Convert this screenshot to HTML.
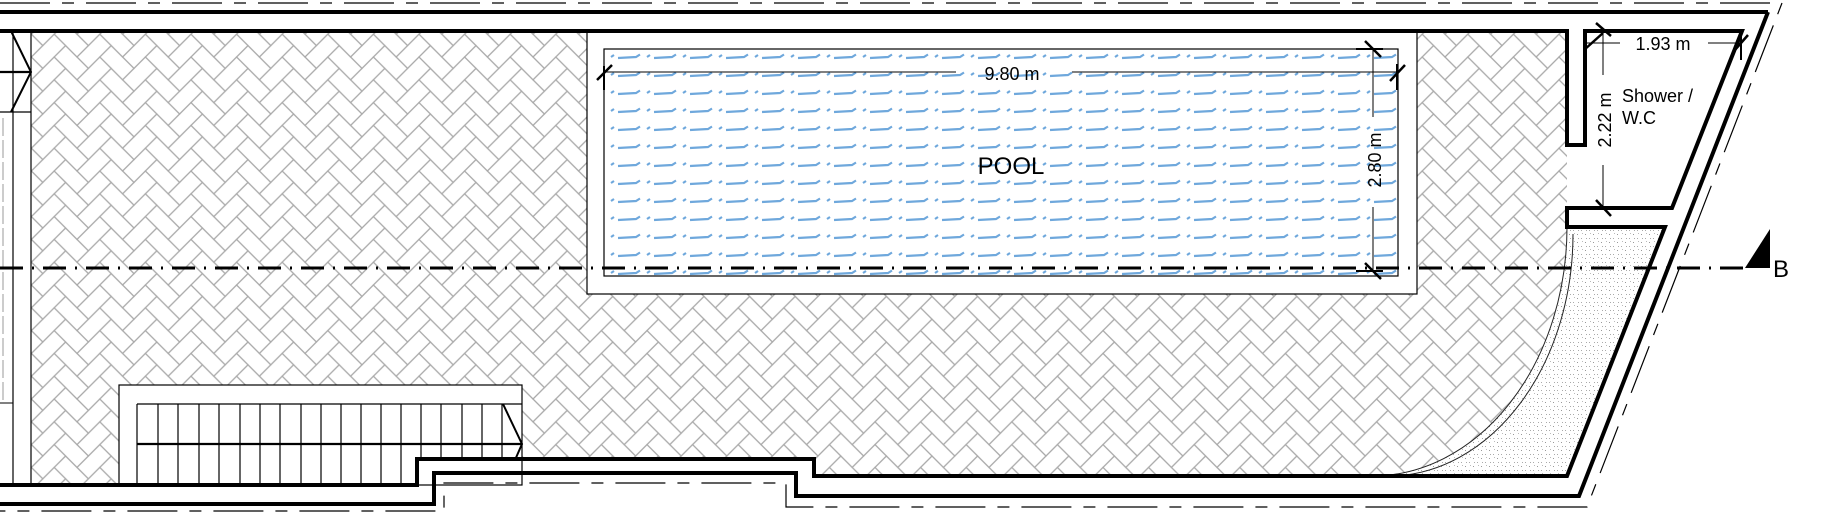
<!DOCTYPE html>
<html><head><meta charset="utf-8"><style>html,body{margin:0;padding:0;background:#fff}svg{display:block}</style></head><body>
<svg width="1823" height="527" viewBox="0 0 1823 527" xmlns="http://www.w3.org/2000/svg" font-family="Liberation Sans, sans-serif">
<defs>
<g id="hb" fill="none" stroke="#aaa" stroke-width="1.2">
<polygon points="0,0 22.8,22.8 11.4,34.2 -11.4,11.4"/>
<polygon points="-11.4,11.4 0,22.8 -22.8,45.6 -34.2,34.2"/>
</g>
<pattern id="herr" patternUnits="userSpaceOnUse" x="20" y="0" width="45.6" height="22.8">
<use href="#hb" x="-45.6" y="-45.6"/><use href="#hb" x="0" y="-45.6"/><use href="#hb" x="45.6" y="-45.6"/><use href="#hb" x="91.2" y="-45.6"/>
<use href="#hb" x="-45.6" y="-22.8"/><use href="#hb" x="0" y="-22.8"/><use href="#hb" x="45.6" y="-22.8"/><use href="#hb" x="91.2" y="-22.8"/>
<use href="#hb" x="-45.6" y="0"/><use href="#hb" x="0" y="0"/><use href="#hb" x="45.6" y="0"/><use href="#hb" x="91.2" y="0"/>
<use href="#hb" x="-45.6" y="22.8"/><use href="#hb" x="0" y="22.8"/><use href="#hb" x="45.6" y="22.8"/><use href="#hb" x="91.2" y="22.8"/>
</pattern>
<pattern id="water" patternUnits="userSpaceOnUse" x="610" y="50" width="36" height="18">
<path d="M1,7 l3,-2 M8,8 L26,7 L30,4.5" fill="none" stroke="#6fa8dc" stroke-width="2.2"/>
</pattern>
<pattern id="stip" patternUnits="userSpaceOnUse" width="8" height="8">
<rect x="1" y="2" width="1" height="1" fill="#999"/><rect x="5" y="6" width="1" height="1" fill="#aaa"/><rect x="6" y="1" width="1" height="1" fill="#bbb"/><rect x="2" y="6" width="1" height="1" fill="#aaa"/>
</pattern>
</defs>

<path d="M31,31 H1567 V227 A195,249 0 0 1 1372,476 H814 V459 H417 V485 H31 Z" fill="url(#herr)"/>
<path d="M1567,227 H1665 L1567,476 H1372 A195,249 0 0 0 1567,227 Z" fill="url(#stip)"/>
<path d="M1567,227 A195,249 0 0 1 1372,476" fill="none" stroke="#222" stroke-width="1"/>
<path d="M1573,234 A185,242 0 0 1 1393,476" fill="none" stroke="#222" stroke-width="1"/>

<rect x="587" y="31" width="830" height="263" fill="#fff" stroke="#000" stroke-width="1.2"/>
<rect x="604" y="49" width="794" height="227" fill="url(#water)" stroke="#000" stroke-width="1.2"/>

<rect x="119" y="385" width="403" height="100" fill="#fff" stroke="#000" stroke-width="1.2"/>
<g stroke="#000" stroke-width="1.2">
<line x1="137" y1="404" x2="522" y2="404"/>
<line x1="137" y1="404" x2="137" y2="485"/>
<line x1="158" y1="404" x2="158" y2="485"/><line x1="178" y1="404" x2="178" y2="485"/><line x1="199" y1="404" x2="199" y2="485"/><line x1="219" y1="404" x2="219" y2="485"/><line x1="240" y1="404" x2="240" y2="485"/><line x1="260" y1="404" x2="260" y2="485"/><line x1="280" y1="404" x2="280" y2="485"/><line x1="301" y1="404" x2="301" y2="485"/><line x1="321" y1="404" x2="321" y2="485"/><line x1="341" y1="404" x2="341" y2="485"/><line x1="361" y1="404" x2="361" y2="485"/><line x1="381" y1="404" x2="381" y2="485"/><line x1="401" y1="404" x2="401" y2="485"/><line x1="421" y1="404" x2="421" y2="459"/><line x1="441" y1="404" x2="441" y2="459"/><line x1="462" y1="404" x2="462" y2="459"/><line x1="482" y1="404" x2="482" y2="459"/><line x1="502" y1="404" x2="502" y2="459"/>
</g>
<line x1="137" y1="444" x2="522" y2="444" stroke="#000" stroke-width="2.2"/>
<polyline points="503,404 522,444 515,460" fill="none" stroke="#000" stroke-width="2"/>

<g stroke="#000">
<line x1="13" y1="31" x2="13" y2="112" stroke-width="1.2"/>
<line x1="31" y1="31" x2="31" y2="485" stroke-width="1.2"/>
<line x1="0" y1="112" x2="31" y2="112" stroke-width="1.2"/>
<line x1="13" y1="112" x2="13" y2="485" stroke-width="1.2"/>
<line x1="0" y1="72" x2="31" y2="72" stroke-width="2.2"/>
<polyline points="11,31 31,72 11,112" fill="none" stroke-width="2"/>
<line x1="3" y1="118" x2="3" y2="400" stroke="#999" stroke-width="1" stroke-dasharray="18 4"/>
<line x1="0" y1="403" x2="13" y2="403" stroke-width="1"/>
</g>

<g fill="none" stroke="#000" stroke-width="4">
<line x1="0" y1="12" x2="1768" y2="12"/>
<polyline points="0,31 1567,31 1567,145 1585,145 1585,31 1742,31 1672,208 1567,208 1567,227 1665,227 1567,476 814,476 814,459 417,459 417,485 0,485"/>
<polyline points="1768,12 1579,496 796,496 796,473 434,473 434,504 0,504"/>
</g>
<g fill="none" stroke="#000" stroke-width="1.2">
<polyline points="0,3 1782,3 1587,507 786,507 786,483 444,483 444,511 0,511" stroke-dasharray="50 12 12 12"/>
</g>

<line x1="0" y1="268" x2="1745" y2="268" stroke="#000" stroke-width="3" stroke-dasharray="23 9 2 9"/>
<polygon points="1745,268 1770,229 1770,268" fill="#000"/>
<text x="1773" y="277" font-size="24">B</text>

<g stroke="#000">
<line x1="604" y1="72" x2="956" y2="72" stroke-width="1"/>
<line x1="1072" y1="72" x2="1397" y2="72" stroke-width="1"/>
<line x1="604" y1="66" x2="604" y2="90" stroke-width="2"/>
<line x1="597" y1="80" x2="612" y2="65" stroke-width="2.5"/>
<line x1="1397" y1="64" x2="1397" y2="90" stroke-width="2"/>
<line x1="1390" y1="81" x2="1405" y2="65" stroke-width="2.5"/>
<line x1="1373" y1="49" x2="1373" y2="117" stroke-width="1"/>
<line x1="1373" y1="207" x2="1373" y2="271" stroke-width="1"/>
<line x1="1356" y1="49" x2="1383" y2="49" stroke-width="2"/>
<line x1="1365" y1="41" x2="1381" y2="57" stroke-width="2.5"/>
<line x1="1356" y1="271" x2="1383" y2="271" stroke-width="2"/>
<line x1="1365" y1="263" x2="1381" y2="279" stroke-width="2.5"/>
<line x1="1584" y1="43" x2="1620" y2="43" stroke-width="1"/>
<line x1="1708" y1="43" x2="1741" y2="43" stroke-width="1"/>
<line x1="1596" y1="23" x2="1611" y2="36" stroke-width="2.5"/>
<line x1="1584" y1="50" x2="1603" y2="33" stroke-width="2.5"/>
<line x1="1741" y1="35" x2="1741" y2="60" stroke-width="2"/>
<line x1="1734" y1="51" x2="1748" y2="35" stroke-width="2.5"/>
<line x1="1603" y1="28" x2="1603" y2="75" stroke-width="1"/>
<line x1="1603" y1="165" x2="1603" y2="210" stroke-width="1"/>
<line x1="1596" y1="200" x2="1611" y2="216" stroke-width="2.5"/>
</g>

<text x="1012" y="80" font-size="18" text-anchor="middle">9.80 m</text>
<text x="1011" y="174" font-size="24" text-anchor="middle">POOL</text>
<text transform="translate(1381,160) rotate(-90)" font-size="18" text-anchor="middle">2.80 m</text>
<text x="1663" y="50" font-size="18" text-anchor="middle">1.93 m</text>
<text transform="translate(1611,120) rotate(-90)" font-size="18" text-anchor="middle">2.22 m</text>
<text x="1622" y="102" font-size="18">Shower /</text>
<text x="1622" y="124" font-size="18">W.C</text>
</svg>
</body></html>
